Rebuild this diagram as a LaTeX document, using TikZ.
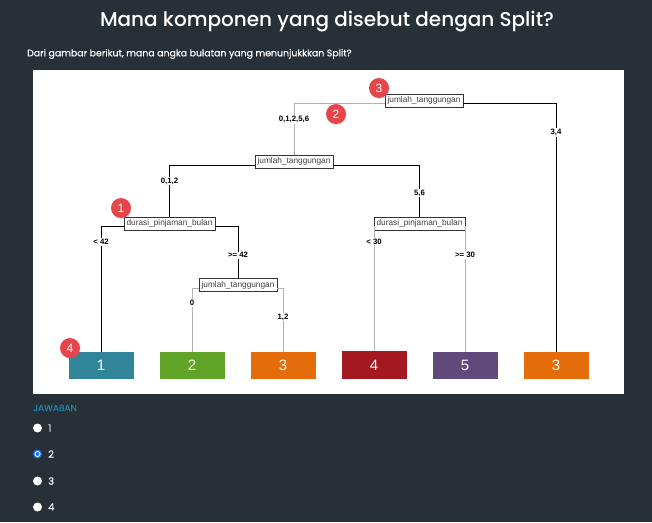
\documentclass[tikz,border=0pt]{standalone}
\usepackage{fontspec}
\setmainfont{Liberation Sans}
\IfFontExistsTF{Poppins Medium}
  {\newfontfamily\poppins{Poppins Medium}}
  {\newfontfamily\poppins{Poppins}[FakeBold=0.8]}
\newfontfamily\poppinsbody{Poppins}[FakeBold=0.4]
\usetikzlibrary{shadows}
\definecolor{bgdark}{RGB}{39,48,54}
\definecolor{badge}{RGB}{230,70,75}
\definecolor{inkgray}{RGB}{178,178,178}
\definecolor{leafteal}{RGB}{49,133,155}
\definecolor{leafgreen}{RGB}{95,163,39}
\definecolor{leaforange}{RGB}{228,108,10}
\definecolor{leafred}{RGB}{163,24,33}
\definecolor{leafpurple}{RGB}{96,74,123}
\definecolor{jawab}{RGB}{30,135,170}
\definecolor{radioblue}{RGB}{26,115,232}

\begin{document}
\begin{tikzpicture}[x=1pt,y=-1pt,
  split/.style={draw=black!80,fill=white,font=\fontsize{8.3}{9}\selectfont,text=black!75,inner sep=2.5pt,minimum height=12pt},
  leaf/.style={minimum width=65pt,minimum height=27pt,inner sep=0pt,text=white,font=\fontsize{15}{16}\selectfont},
  eb/.style={black,line width=0.9pt},
  eg/.style={inkgray,line width=1pt},
  lbl/.style={fill=white,inner sep=1pt,text=black,font=\bfseries\fontsize{7.8}{8}\selectfont},
  bdg/.style={circle,fill=badge,text=white,minimum size=20pt,inner sep=0pt,font=\fontsize{12}{12}\selectfont,
    drop shadow={opacity=0.25,shadow xshift=0.5pt,shadow yshift=-1pt}},
  radio/.style={circle,fill=white,minimum size=9pt,inner sep=0pt},
  opt/.style={anchor=west,inner sep=0pt,text=white,font=\poppinsbody\fontsize{10}{11}\selectfont}]
\useasboundingbox (0,0) rectangle (652,522);
\fill[bgdark] (0,0) rectangle (652,522);
\node[text=white,font=\poppins\fontsize{20}{24}\selectfont] (title) at (327,22) {Mana komponen yang disebut dengan Split?};
\node[anchor=west,inner sep=0pt,text=white,font=\poppinsbody\fontsize{9.4}{10}\selectfont] (sub) at (27,54)
  {Dari gambar berikut, mana angka bulatan yang menunjukkkan Split?};
\fill[white] (33,70) rectangle (624,394);
% splits
\node[split] (root) at (424,100.5) {jumlah\_tanggungan};
\node[split] (mid) at (294,161.5) {jumlah\_tanggungan};
\node[split] (ldur) at (169.5,223.5) {durasi\_pinjaman\_bulan};
\node[split] (rdur) at (419.5,223.5) {durasi\_pinjaman\_bulan};
\node[split] (ljum) at (238,285) {jumlah\_tanggungan};
% leaves
\node[leaf,fill=leafteal] (leafa) at (101,365.5) {1};
\node[leaf,fill=leafgreen] (leafb) at (192,365.5) {2};
\node[leaf,fill=leaforange] (leafc) at (283,365.5) {3};
\node[leaf,fill=leafred,minimum height=28pt] (leafd) at (374,365) {4};
\node[leaf,fill=leafpurple] (leafe) at (465,365.5) {5};
\node[leaf,fill=leaforange] (leaff) at (556,365.5) {3};
% branches
\draw[eg] ([yshift=-3pt]root.west) -| node[lbl,pos=.654]{0,1,2,5,6} (mid.north);
\draw[eb] ([yshift=-3pt]root.east) -| node[lbl,pos=.558]{3,4} (leaff.north);
\draw[eb] ([yshift=-3.5pt]mid.west) -| node[lbl,pos=.654]{0,1,2} (ldur.north);
\draw[eb] ([yshift=-3.5pt]mid.east) -| node[lbl,pos=.769]{5,6} (rdur.north);
\draw[eb] ([yshift=-2.5pt]ldur.west) -| node[lbl,pos=.563]{< 42} (leafa.north);
\draw[eb] ([yshift=-2.5pt]ldur.east) -| node[lbl,pos=.779]{>= 42} (ljum.north);
\draw[eg] ([yshift=-2.5pt]rdur.west) -| node[lbl,pos=.563]{< 30} (leafd.north);
\draw[eg] ([yshift=-2.5pt]rdur.east) -| node[lbl,pos=.615]{>= 30} (leafe.north);
\draw[eg] ([yshift=-3pt]ljum.west) -| node[lbl,pos=.617]{0} (leafb.north);
\draw[eg] ([yshift=-3pt]ljum.east) -| node[lbl,pos=.727]{1,2} (leafc.north);
% badges
\node[bdg] (bdga) at (121,208) {1};
\node[bdg] (bdgb) at (336,114) {2};
\node[bdg] (bdgc) at (379,88) {3};
\node[bdg] (bdgd) at (70,348) {4};
% answers
\node[anchor=west,inner sep=0pt,text=jawab,font=\poppinsbody\fontsize{9}{10}\selectfont] (jwb) at (33,408) {JAWABAN};
\node[radio] (ra) at (37.5,428) {};
\node[radio,fill=radioblue] (rb) at (37.5,454) {};
\fill[white] (rb) circle (3);
\fill[radioblue] (rb) circle (2);
\node[radio] (rc) at (37.5,481) {};
\node[radio] (rd) at (37.5,507) {};
\node[opt] (oa) at (48,428) {1};
\node[opt] (ob) at (48,454) {2};
\node[opt] (oc) at (48,481) {3};
\node[opt] (od) at (48,507) {4};
\end{tikzpicture}
\end{document}
